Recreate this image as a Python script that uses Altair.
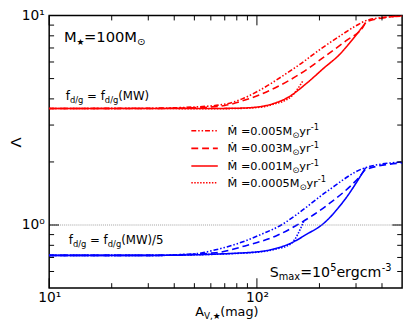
import altair as alt
import pandas as pd

# ---------------- data ----------------
red_005_x = [10, 30, 50, 70.6, 85, 101, 135.5, 163, 203, 252, 299, 349, 500]
red_005_y = [3.6, 3.61, 3.66, 3.78, 4.0, 4.35, 5.21, 5.90, 6.93, 8.01, 8.92, 9.58, 9.93]
red_003_x = [10, 30, 50, 70, 85, 122, 163, 216, 269, 323, 337, 500]
red_003_y = [3.6, 3.6, 3.63, 3.72, 3.91, 4.51, 5.30, 6.46, 7.59, 8.76, 9.35, 9.97]
red_001_x = [10, 30, 60, 80, 101, 120, 140, 174, 209, 252, 290, 334]
red_001_y = [3.6, 3.6, 3.6, 3.61, 3.66, 3.8, 4.05, 4.76, 5.59, 6.57, 7.73, 9.25]
red_0005_x = [10, 30, 60, 80, 101, 120, 146, 167]
red_0005_y = [3.6, 3.6, 3.59, 3.6, 3.64, 3.77, 4.1, 4.9]

blue_005_x = [10, 30, 51, 63.4, 87.7, 105.6, 131, 155, 216, 334, 500]
blue_005_y = [0.716, 0.716, 0.73, 0.762, 0.839, 0.905, 1.0, 1.12, 1.44, 1.88, 2.0]
blue_003_x = [10, 30, 63.4, 87.7, 125.6, 156, 216, 313, 334, 500]
blue_003_y = [0.716, 0.716, 0.737, 0.795, 0.893, 1.0, 1.236, 1.706, 1.84, 1.98]
blue_001_x = [10, 30, 87.7, 121.7, 146, 174, 205, 260, 334]
blue_001_y = [0.716, 0.716, 0.737, 0.77, 0.82, 0.905, 1.0, 1.29, 1.88]
blue_0005_x = [10, 30, 87.7, 121.7, 146, 168]
blue_0005_y = [0.716, 0.716, 0.735, 0.765, 0.815, 1.04]

rates = ["0.005", "0.003", "0.001", "0.0005"]
x_major = [10, 100]
x_minor = [20, 30, 40, 50, 60, 70, 80, 90, 200, 300, 400]
y_major = [1]
y_minor = [0.6, 0.7, 0.8, 0.9, 2, 3, 4, 5, 6, 7, 8, 9]

# ---------------- styles ----------------
W, H = 360, 278
FONT = "DejaVu Sans"
RED, BLUE = "#ff0000", "#0000ff"
DASH = {"0.005": [5, 2, 1.5, 2, 1.5, 2], "0.003": [7, 4], "0.001": [1, 0], "0.0005": [1.5, 1.5]}

series = {
    ("red", "0.005"): (red_005_x, red_005_y),
    ("red", "0.003"): (red_003_x, red_003_y),
    ("red", "0.001"): (red_001_x, red_001_y),
    ("red", "0.0005"): (red_0005_x, red_0005_y),
    ("blue", "0.005"): (blue_005_x, blue_005_y),
    ("blue", "0.003"): (blue_003_x, blue_003_y),
    ("blue", "0.001"): (blue_001_x, blue_001_y),
    ("blue", "0.0005"): (blue_0005_x, blue_0005_y),
}
rows = []
for (col, rate), (xs, ys) in series.items():
    for i, (xv, yv) in enumerate(zip(xs, ys)):
        rows.append(dict(x=xv, y=yv, rate=rate, c=RED if col == "red" else BLUE,
                         s=col + rate, i=i))
df = pd.DataFrame(rows)

xscale = alt.Scale(type="log", domain=[10, 500], nice=False)
yscale = alt.Scale(type="log", domain=[0.5, 10], nice=False)
xenc = alt.X("x:Q", scale=xscale, axis=alt.Axis(
    values=x_major, labelExpr="datum.value == 10 ? '10¹' : '10²'", ticks=False,
    domain=False, grid=False, title=None, labelFontSize=14, labelFont=FONT,
    labelColor="black", labelPadding=3, labelFlush=False))
yenc = alt.Y("y:Q", scale=yscale, axis=alt.Axis(
    values=[1, 10], labelExpr="datum.value == 10 ? '10¹' : '10⁰'", ticks=False,
    domain=False, grid=False, title=None, labelFontSize=14, labelFont=FONT,
    labelColor="black", labelPadding=5))

layers = []
for rate in rates:
    layers.append(
        alt.Chart(df[df.rate == rate]).mark_line(
            strokeDash=DASH[rate], strokeWidth=1.6, clip=True, interpolate="monotone")
        .encode(x=xenc, y=yenc, color=alt.Color("c:N", scale=None),
                detail="s:N", order="i:Q"))

# reference line at 1
layers.append(alt.Chart(pd.DataFrame({"y": [1]})).mark_rule(
    color="#888888", strokeDash=[1, 1], strokeWidth=0.8).encode(y=yenc))

# inward ticks
tx = pd.DataFrame({"x": x_minor + x_major, "L": [5] * len(x_minor) + [10] * len(x_major)})
ty = pd.DataFrame({"y": y_minor + y_major, "L": [5] * len(y_minor) + [10] * len(y_major)})
for L in (5, 10):
    layers.append(alt.Chart(tx[tx.L == L]).mark_rule(color="black", strokeWidth=1).encode(
        x=xenc, y=alt.value(H), y2=alt.value(H - L)))
    layers.append(alt.Chart(tx[tx.L == L]).mark_rule(color="black", strokeWidth=1).encode(
        x=xenc, y=alt.value(0), y2=alt.value(L)))
    layers.append(alt.Chart(ty[ty.L == L]).mark_rule(color="black", strokeWidth=1).encode(
        y=yenc, x=alt.value(0), x2=alt.value(L)))
    layers.append(alt.Chart(ty[ty.L == L]).mark_rule(color="black", strokeWidth=1).encode(
        y=yenc, x=alt.value(W), x2=alt.value(W - L)))

# legend lines
leg_y = [117.5, 135.5, 153.5, 170.5]
for rate, ly in zip(rates, leg_y):
    layers.append(alt.Chart(pd.DataFrame({"a": [0]})).mark_rule(
        color=RED, strokeWidth=1.6, strokeDash=DASH[rate]).encode(
        x=alt.value(145), x2=alt.value(172), y=alt.value(ly)))

# rich text helper (segments: text, font size, baseline shift, gap before)
EM = {'M': 0.863, 'Ṁ': 0.863, ' ': 0.318, '=': 0.838, '.': 0.318, 'y': 0.592,
      'r': 0.411, '-': 0.361, '⊙': 0.84, '★': 0.84, 'f': 0.352, 'd': 0.635, '/': 0.337,
      'g': 0.635, '(': 0.39, ')': 0.39, 'W': 0.989, 'S': 0.635, 'm': 0.974, 'a': 0.613,
      'x': 0.592, 'e': 0.615, 'c': 0.55, 'A': 0.684, 'V': 0.684, ',': 0.318}


def width(t, s):
    return sum(EM.get(ch, 0.636) for ch in t) * s


texts = []


def rich(x0, y0, segs, color="black"):
    x = x0
    for seg in segs:
        t, s, sh = seg[:3]
        gap = seg[3] if len(seg) > 3 else 0
        x += gap
        texts.append(dict(px=x, py=y0 + sh, t=t, fs=s, c=color))
        x += width(t, s)


rich(15, 27, [("M", 15, 0), ("★", 9, 3), ("=100M", 15, 0), ("⊙", 10, 3)])
rich(17, 86, [("f", 12, 0), ("d/g", 8.5, 3), ("= f", 12, 0, 3.8), ("d/g", 8.5, 3),
              ("(MW)", 12, 0)])
rich(20, 233.5, [("f", 12, 0), ("d/g", 8.5, 3), ("= f", 12, 0, 3.8), ("d/g", 8.5, 3),
                 ("(MW)/5", 12, 0)])
rich(225, 266.5, [("S", 14.5, 0), ("max", 10, 3.5), ("=10", 14.5, 0), ("5", 10, -6),
                  ("ergcm", 14.5, 0), ("-3", 10, -6)])
for rate, ly in zip(rates, leg_y):
    rich(182, ly + 4, [("Ṁ =" + rate + "M", 11.5, 0), ("⊙", 8.5, 3), ("yr", 11.5, 0),
                       ("-1", 8.5, -4.5)])
rich(149, 306.5, [("A", 13, 0), ("V,★", 9, 3), ("(mag)", 13, 0)])
tdf = pd.DataFrame(texts)

layers.append(alt.Chart(tdf).mark_text(align="left", baseline="alphabetic", font=FONT).encode(
    x=alt.X("px:Q", scale=None, axis=None), y=alt.Y("py:Q", scale=None, axis=None),
    text="t:N", size=alt.Size("fs:Q", scale=None, legend=None),
    color=alt.Color("c:N", scale=None)))
layers.append(alt.Chart(pd.DataFrame({"t": ["Λ"]})).mark_text(
    align="center", baseline="middle", font=FONT, fontSize=15, angle=270, color="black").encode(
    x=alt.value(-34), y=alt.value(129.5), text="t:N"))

chart = alt.layer(*layers).properties(
    width=W, height=H, autosize=alt.AutoSizeParams(type="none"),
    padding={"left": 42, "top": 4.5, "right": 6, "bottom": 35},
    background="white",
).configure_view(stroke="black", strokeWidth=1.5)

chart.save("out.html", embed_options={"renderer": "svg", "actions": False})
